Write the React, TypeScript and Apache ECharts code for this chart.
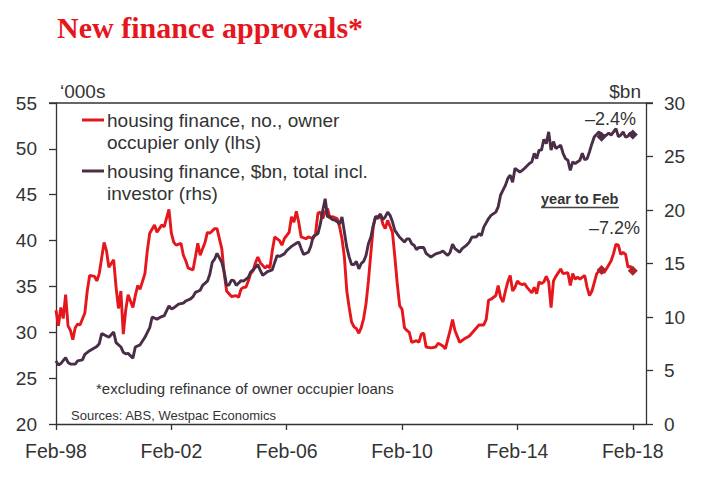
import React, { useEffect, useRef } from "react";
import * as echarts from "echarts";

// Months counted from Feb-98 (0) ; owner-occupier approvals, '000s (lhs)
const ownerMonths = [0,1,2,3,4,5,6,7,8,9,10,12,13,14,16,17,18,20,21,22,23,24,25,26,27,28,29,30,32,33,34,35,37,38,39,41,42,43,44,45,47,48,49,50,52,53,54,55,57,58,59,60,61,62,63,64,66,67,69,70,71,72,73,75,76,77,78,79,80,81,82,83,84,85,86,87,88,89,90,91,93,94,95,97,98,99,100,101,102,104,105,107,108,109,110,111,112,113,114,115,117,118,119,120,121,122,123,124,125,126,127,128,129,130,131,132,133,134,135,136,137,138,140,141,142,143,144,145,146,147,148,150,151,152,153,154,156,158,159,161,162,164,165,166,168,170,172,174,176,178,179,180,181,183,184,185,186,187,188,189,190,191,192,193,194,195,196,198,199,200,201,202,203,204,205,206,207,208,210,211,213,214,215,216,217,218,220,221,222,223,225,226,227,228,229,231,232,233,234,235,236,237,238,239,240];
const ownerValues = [32.4,30.7,32.7,31.5,34.1,30.7,30.2,29.2,30.5,30.9,30.8,32.1,34.5,36.2,36.1,35.6,36.4,39.8,38.9,37.1,37.5,37.9,34.9,32.6,34.5,29.8,32.4,34.1,32.7,34.0,35.1,34.7,36.4,38.9,40.8,41.7,40.9,41.3,41.7,41.5,43.4,40.8,39.8,39.5,39.7,38.4,37.8,37.0,36.8,38.2,39.7,38.4,39.1,39.8,40.9,40.8,41.3,41.3,39.1,36.4,34.5,34.2,33.9,34.0,33.8,34.7,34.9,34.9,35.6,36.4,36.7,37.6,38.2,37.6,37.3,37.0,37.3,37.0,38.9,40.4,40.0,39.5,40.2,40.9,42.6,42.0,43.2,42.0,40.4,40.2,40.4,40.2,40.8,43.0,43.1,42.4,43.1,43.5,42.4,42.6,42.4,41.5,40.2,38.2,34.5,32.7,31.1,30.6,30.4,29.9,30.5,31.5,33.1,35.6,38.6,41.5,42.6,42.6,42.9,41.8,41.3,42.2,40.9,38.2,35.3,32.9,32.5,30.5,30.2,30.0,28.9,29.1,28.9,29.8,29.9,28.4,28.3,28.4,28.8,28.5,28.2,30.2,31.4,30.2,28.9,29.3,29.6,30.2,30.8,30.8,31.4,33.5,33.6,34.0,35.1,33.8,33.3,34.5,35.5,36.2,34.5,34.9,35.6,35.3,35.2,35.3,34.9,34.3,34.9,34.2,35.5,35.3,35.5,36.1,35.5,32.7,35.6,36.1,36.9,36.4,36.5,35.1,36.4,35.8,36.0,35.8,36.2,34.9,34.0,34.5,36.4,36.7,36.8,36.5,36.9,37.8,38.6,39.6,39.5,38.5,38.7,38.5,37.1,37.2,36.7];

// Total housing finance incl. investor, $bn (rhs)
const totalMonths = [0,1,2,4,5,6,8,9,11,12,14,17,18,19,20,22,24,25,27,28,29,30,32,33,35,37,39,40,42,44,45,47,48,49,51,53,54,56,57,58,60,61,63,64,65,66,67,69,70,71,72,73,74,75,77,78,80,81,82,84,85,86,88,90,91,92,93,95,96,97,98,100,101,102,103,105,106,107,109,110,111,112,113,114,115,116,117,118,119,120,121,122,123,124,125,126,127,128,129,130,131,132,133,134,135,136,137,138,139,140,141,143,145,146,147,148,149,150,151,153,154,156,158,160,161,163,164,165,166,168,169,171,172,173,175,176,177,178,180,181,183,184,185,186,187,188,189,190,191,193,194,195,197,198,199,200,201,202,203,204,205,206,207,208,209,210,211,212,213,214,215,216,218,219,220,221,222,223,224,226,227,228,229,230,231,232,233,234,235,236,237,238,239,240];
const totalValues = [5.9,5.5,5.65,6.2,5.75,5.6,5.6,5.9,6.0,6.5,6.85,7.25,7.5,8.45,8.35,8.1,8.6,7.6,7.2,6.7,6.55,6.6,6.15,7.2,7.4,8.1,9.0,10.0,9.8,10.05,10.1,11.05,10.75,10.85,11.2,11.3,11.5,11.7,11.9,12.3,12.5,12.95,13.35,14.0,15.1,15.4,15.95,15.1,14.2,12.95,13.0,13.45,13.4,12.95,13.4,13.35,13.7,14.2,14.4,14.9,14.35,13.9,14.25,14.4,15.1,15.75,15.65,15.9,16.2,16.4,16.6,16.9,17.0,16.4,15.85,16.05,16.6,17.5,17.8,18.7,19.95,21.05,19.35,19.4,19.1,19.05,18.9,18.7,19.35,17.95,16.5,15.6,14.9,14.9,15.2,14.5,15.0,15.2,15.75,16.85,17.45,18.55,19.4,19.2,19.6,19.1,19.35,19.8,19.5,18.9,18.1,17.45,17.0,17.3,17.3,16.85,16.7,16.3,16.5,16.5,15.95,15.6,15.9,16.05,16.15,15.75,16.05,16.8,16.4,16.05,16.4,16.75,17.0,17.45,17.5,17.8,17.6,18.4,19.2,19.5,19.8,20.3,21.4,21.85,22.3,22.95,23.25,22.6,23.9,23.55,23.7,23.9,24.35,24.5,25.3,24.8,25.6,25.6,26.6,26.2,27.3,25.6,26.4,25.75,25.9,26.05,25.3,24.8,24.65,23.7,24.5,24.35,24.65,25.3,24.7,24.8,25.45,26.2,26.85,27.3,26.85,26.9,27.0,27.2,27.0,27.3,27.6,26.85,27.0,27.3,26.8,26.9,27.2,27.05];

// Highlighted points (diamonds) for the year-to-Feb comparison
const markerMonths = [227, 240];

const ownerName = "housing finance, no., owner occupier only (lhs)";
const totalName = "housing finance, $bn, total incl. investor (rhs)";
const xTickLabelStartYear = 98;

const RED = "#E5171D";
const PURPLE = "#4A2D47";
const TEXT = "#333333";
const SANS = "'Liberation Sans', Arial, sans-serif";

function pairs(ms: number[], vs: number[]) {
  return ms.map((m, i) => [m, vs[i]]);
}
function pick(ms: number[], vs: number[], wanted: number[]) {
  return wanted.map((w) => [w, vs[ms.indexOf(w)]]);
}

export default function App() {
  const ref = useRef<HTMLDivElement>(null);
  useEffect(() => {
    if (!ref.current) return;
    const chart = echarts.init(ref.current, undefined, { renderer: "svg" });
    const axisLineStyle = { color: "#333", width: 1.3 };
    const option: any = {
      animation: false,
      backgroundColor: "#fff",
      grid: { left: 56, right: 62, top: 103, bottom: 65, containLabel: false },
      xAxis: {
        type: "value",
        min: 0,
        max: 245.5,
        interval: 48,
        axisLine: { show: true, onZero: false, lineStyle: axisLineStyle },
        axisTick: { show: true, inside: false, length: 6, lineStyle: axisLineStyle },
        splitLine: { show: false },
        axisLabel: {
          showMaxLabel: false,
          margin: 17,
          fontSize: 19.5,
          fontFamily: SANS,
          color: TEXT,
          formatter: (v: number) =>
            "Feb-" + String((xTickLabelStartYear + Math.round(v / 12)) % 100).padStart(2, "0"),
        },
      },
      yAxis: [
        {
          type: "value",
          position: "left",
          min: 20,
          max: 55,
          interval: 5,
          axisLine: { show: true, lineStyle: axisLineStyle },
          axisTick: { show: true, length: 7, lineStyle: axisLineStyle },
          splitLine: { show: false },
          axisLabel: { margin: 19, fontSize: 19, fontFamily: SANS, color: TEXT },
        },
        {
          type: "value",
          position: "right",
          min: 0,
          max: 30,
          interval: 5,
          axisLine: { show: true, lineStyle: axisLineStyle },
          axisTick: { show: true, length: 7, lineStyle: axisLineStyle },
          splitLine: { show: false },
          axisLabel: { margin: 18, fontSize: 19, fontFamily: SANS, color: TEXT },
        },
      ],
      series: [
        {
          name: ownerName,
          type: "line",
          yAxisIndex: 0,
          data: pairs(ownerMonths, ownerValues),
          showSymbol: false,
          symbol: "none",
          lineStyle: { color: RED, width: 2.9 },
          z: 2,
        },
        {
          name: totalName,
          type: "line",
          yAxisIndex: 1,
          data: pairs(totalMonths, totalValues),
          showSymbol: false,
          symbol: "none",
          lineStyle: { color: PURPLE, width: 2.9 },
          z: 3,
        },
        {
          type: "scatter",
          yAxisIndex: 0,
          data: pick(ownerMonths, ownerValues, markerMonths),
          symbol: "diamond",
          symbolSize: 10,
          itemStyle: { color: "#B0202A", opacity: 1 },
          z: 4,
        },
        {
          type: "scatter",
          yAxisIndex: 1,
          data: pick(totalMonths, totalValues, markerMonths),
          symbol: "diamond",
          symbolSize: 10,
          itemStyle: { color: PURPLE, opacity: 1 },
          z: 4,
        },
      ],
      graphic: [
        {
          type: "text",
          left: 57,
          top: 12,
          style: {
            text: "New finance approvals*",
            fill: RED,
            font: "bold 30px 'Liberation Serif', 'Times New Roman', serif",
          },
        },
        {
          type: "line",
          shape: { x1: 49, y1: 103, x2: 653, y2: 103 },
          style: { stroke: "#333", lineWidth: 1.3 },
        },
        { type: "text", x: 60, y: 91, style: { text: "‘000s", fill: TEXT, font: `19px ${SANS}`, verticalAlign: "middle" } },
        { type: "text", x: 641, y: 91, style: { text: "$bn", fill: TEXT, font: `19px ${SANS}`, align: "right", verticalAlign: "middle" } },
        { type: "line", shape: { x1: 82, y1: 120, x2: 104, y2: 120 }, style: { stroke: RED, lineWidth: 3 } },
        { type: "text", x: 107, y: 120, style: { text: "housing finance, no., owner", fill: TEXT, font: `19px ${SANS}`, verticalAlign: "middle" } },
        { type: "text", x: 107, y: 142, style: { text: "occupier only (lhs)", fill: TEXT, font: `19px ${SANS}`, verticalAlign: "middle" } },
        { type: "line", shape: { x1: 82, y1: 171, x2: 104, y2: 171 }, style: { stroke: PURPLE, lineWidth: 3 } },
        { type: "text", x: 107, y: 171, style: { text: "housing finance, $bn, total incl.", fill: TEXT, font: `19px ${SANS}`, verticalAlign: "middle" } },
        { type: "text", x: 107, y: 193, style: { text: "investor (rhs)", fill: TEXT, font: `19px ${SANS}`, verticalAlign: "middle" } },
        { type: "text", x: 636, y: 119, style: { text: "–2.4%", fill: TEXT, font: `18px ${SANS}`, align: "right", verticalAlign: "middle" } },
        { type: "text", x: 541, y: 199, style: { text: "year to Feb", fill: TEXT, font: `bold 14.5px ${SANS}`, verticalAlign: "middle" } },
        { type: "line", shape: { x1: 541, y1: 207.5, x2: 619, y2: 207.5 }, style: { stroke: "#444", lineWidth: 1.6 } },
        { type: "text", x: 640, y: 228, style: { text: "–7.2%", fill: TEXT, font: `18px ${SANS}`, align: "right", verticalAlign: "middle" } },
        { type: "text", x: 96, y: 388, style: { text: "*excluding refinance of owner occupier loans", fill: TEXT, font: `15px ${SANS}`, verticalAlign: "middle" } },
        { type: "text", x: 71, y: 415, style: { text: "Sources: ABS, Westpac Economics", fill: TEXT, font: `13px ${SANS}`, verticalAlign: "middle" } },
      ],
    };
    chart.setOption(option);
    return () => chart.dispose();
  }, []);
  return (
    <div
      ref={ref}
      style={{ position: "fixed", left: 0, top: 0, width: 708, height: 489, background: "#fff" }}
    />
  );
}
